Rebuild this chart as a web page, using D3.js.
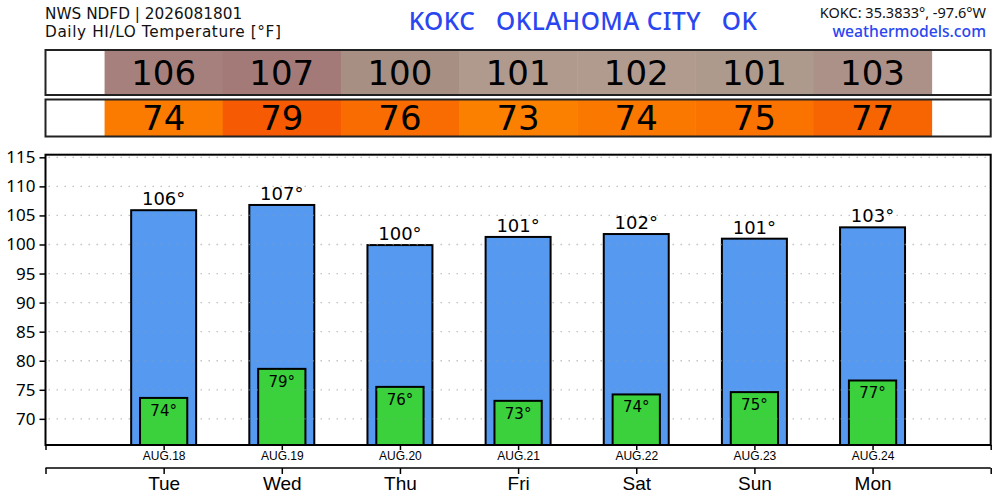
<!DOCTYPE html>
<html>
<head>
<meta charset="utf-8">
<script src="https://cdn.jsdelivr.net/npm/d3@7"></script>
<style>
  body { margin: 0; background: #fff; }
  svg { display: block; font-family: "Noto Sans", sans-serif; }
</style>
</head>
<body>
<svg id="chart" width="1000" height="500"></svg>
<script>
// Data
var days = ["Tue", "Wed", "Thu", "Fri", "Sat", "Sun", "Mon"];
var dates = ["AUG.18", "AUG.19", "AUG.20", "AUG.21", "AUG.22", "AUG.23", "AUG.24"];
var hiTemps = [105.9, 106.8, 99.9, 101.3, 101.8, 101.0, 102.95];
var loTemps = [73.6, 78.6, 75.5, 73.1, 74.2, 74.6, 76.6];
var hiCellColors = ["#a6807c", "#a37a78", "#a78f83", "#b09a8e", "#b19b8f", "#ae998d", "#ac9188"];
var loCellColors = ["#fb7b00", "#f65a02", "#f86c02", "#fb8000", "#fa7700", "#fa7200", "#f76503"];
var yTicks = [70, 75, 80, 85, 90, 95, 100, 105, 110, 115];

(function() {
    var svg = d3.select("#chart");

    var left = 45.5, right = 990.7, top = 154.7, bottom = 445;

    // x: one slot per day, empty half-slot margins at each side
    var x = d3.scaleLinear().domain([0, 8]).range([left, right]);
    var y = d3.scaleLinear().domain([65.5, 115.45]).range([bottom, top]);
    var step = x(1) - x(0);
    var idx = d3.range(days.length);

    // Header texts
    svg.append("text").attr("x", 45).attr("y", 19)
        .style("font-family", "'DejaVu Sans', sans-serif")
        .style("font-size", "15.3px").attr("fill", "#111")
        .text("NWS NDFD | 2026081801");
    svg.append("text").attr("x", 45).attr("y", 37)
        .style("font-family", "'DejaVu Sans', sans-serif")
        .style("font-size", "15.3px").style("letter-spacing", "0.6px").attr("fill", "#111")
        .text("Daily HI/LO Temperature [°F]");
    svg.append("text").attr("x", 583).attr("y", 30)
        .style("text-anchor", "middle").style("font-size", "24.5px")
        .style("font-weight", "500").style("letter-spacing", "0.5px")
        .attr("fill", "#2a46f0").attr("xml:space", "preserve")
        .text("KOKC   OKLAHOMA CITY   OK");
    svg.append("text").attr("x", 986).attr("y", 18)
        .style("text-anchor", "end").style("font-size", "14.5px").attr("fill", "#111")
        .text("KOKC: 35.3833°, -97.6°W");
    svg.append("text").attr("x", 986).attr("y", 37)
        .style("text-anchor", "end").style("font-size", "15.7px")
        .style("font-weight", "500").attr("fill", "#2a46f0")
        .text("weathermodels.com");

    // Table rows (HI on top, LO below)
    function tableRow(y0, h, values, colors) {
        var g = svg.append("g");
        g.append("rect").attr("x", left).attr("y", y0).attr("width", right - left).attr("height", h)
            .attr("fill", "#fff");
        g.selectAll("rect.cell").data(idx).enter().append("rect")
            .attr("class", "cell")
            .attr("x", (i) => x(i + 0.5))
            .attr("y", y0)
            .attr("width", step + 0.5)
            .attr("height", h)
            .attr("fill", (i) => colors[i]);
        g.selectAll("text").data(idx).enter().append("text")
            .attr("x", (i) => x(i + 1))
            .attr("y", y0 + h / 2 + 12)
            .style("text-anchor", "middle")
            .style("font-family", "'DejaVu Sans', sans-serif")
            .style("font-size", "34px")
            .attr("fill", "#000")
            .text((i) => Math.round(values[i]));
        g.append("rect").attr("x", left).attr("y", y0).attr("width", right - left).attr("height", h)
            .attr("fill", "none").attr("stroke", "#222").attr("stroke-width", 2);
    }
    tableRow(50, 45, hiTemps, hiCellColors);
    tableRow(99.5, 37, loTemps, loCellColors);

    // Hi bars
    var hiW = step * 0.55, loW = step * 0.4;
    svg.selectAll("rect.hi").data(idx).enter().append("rect")
        .attr("class", "hi")
        .attr("x", (i) => x(i + 1) - hiW / 2)
        .attr("y", (i) => y(hiTemps[i]))
        .attr("width", hiW)
        .attr("height", (i) => bottom - y(hiTemps[i]))
        .attr("fill", "#559af0")
        .attr("stroke", "#000").attr("stroke-width", 2);

    // Lo bars
    svg.selectAll("rect.lo").data(idx).enter().append("rect")
        .attr("class", "lo")
        .attr("x", (i) => x(i + 1) - loW / 2)
        .attr("y", (i) => y(loTemps[i]))
        .attr("width", loW)
        .attr("height", (i) => bottom - y(loTemps[i]))
        .attr("fill", "#3ad13c")
        .attr("stroke", "#000").attr("stroke-width", 2);

    // dotted grid over bars
    svg.selectAll("line.grid").data(yTicks).enter().append("line")
        .attr("class", "grid")
        .attr("x1", left + 3).attr("x2", right - 3)
        .attr("y1", (d) => y(d)).attr("y2", (d) => y(d))
        .attr("stroke", "#999").attr("stroke-opacity", 0.6)
        .attr("stroke-width", 1.3).attr("stroke-dasharray", "1.5,6.5");

    // Bar labels
    svg.selectAll("text.hiLab").data(idx).enter().append("text")
        .attr("x", (i) => x(i + 1))
        .attr("y", (i) => y(hiTemps[i]) - 5)
        .style("text-anchor", "middle")
        .style("font-family", "'DejaVu Sans', sans-serif")
        .style("font-size", "18px")
        .text((i) => Math.round(hiTemps[i]) + "°");
    svg.selectAll("text.loLab").data(idx).enter().append("text")
        .attr("x", (i) => x(i + 1))
        .attr("y", (i) => y(loTemps[i]) + 18)
        .style("text-anchor", "middle")
        .style("font-family", "'DejaVu Sans', sans-serif")
        .style("font-size", "15px")
        .text((i) => Math.round(loTemps[i]) + "°");

    // Frame
    svg.append("rect").attr("x", left).attr("y", top).attr("width", right - left).attr("height", bottom - top)
        .attr("fill", "none").attr("stroke", "#000").attr("stroke-width", 2);

    // Y axis
    var yAxis = svg.append("g").attr("transform", "translate(" + left + ",0)")
        .call(d3.axisLeft(y).tickValues(yTicks).tickSize(6).tickPadding(4));
    yAxis.select(".domain").remove();
    yAxis.selectAll("line").attr("stroke", "#000").attr("stroke-width", 1.5);
    yAxis.selectAll("text").style("font-size", "17px").style("font-family", "'Noto Sans', sans-serif")
        .attr("fill", "#000");

    // Date axis (below plot)
    var tickPos = d3.range(0, 9);
    var dateAxis = svg.append("g").attr("transform", "translate(0," + bottom + ")")
        .call(d3.axisBottom(x).tickValues(tickPos).tickSize(5).tickSizeOuter(0)
            .tickFormat((d) => (d >= 1 && d <= 7) ? dates[d - 1] : ""));
    dateAxis.select(".domain").remove();
    dateAxis.selectAll("line").attr("stroke", "#000").attr("stroke-width", 1.5);
    dateAxis.selectAll("text").style("font-size", "12px").attr("dy", "0.55em").attr("fill", "#000");

    // Day axis
    var dayAxis = svg.append("g").attr("transform", "translate(0,468)")
        .call(d3.axisBottom(x).tickValues(tickPos).tickSize(6).tickSizeOuter(0).tickPadding(3)
            .tickFormat((d) => (d >= 1 && d <= 7) ? days[d - 1] : ""));
    dayAxis.select(".domain").attr("stroke", "#000").attr("stroke-width", 1.5)
        .attr("d", "M" + left + ",0H" + right);
    dayAxis.selectAll("line").attr("stroke", "#000").attr("stroke-width", 1.5);
    dayAxis.selectAll("text").style("font-size", "19px").attr("fill", "#000");
})();
</script>
</body>
</html>
